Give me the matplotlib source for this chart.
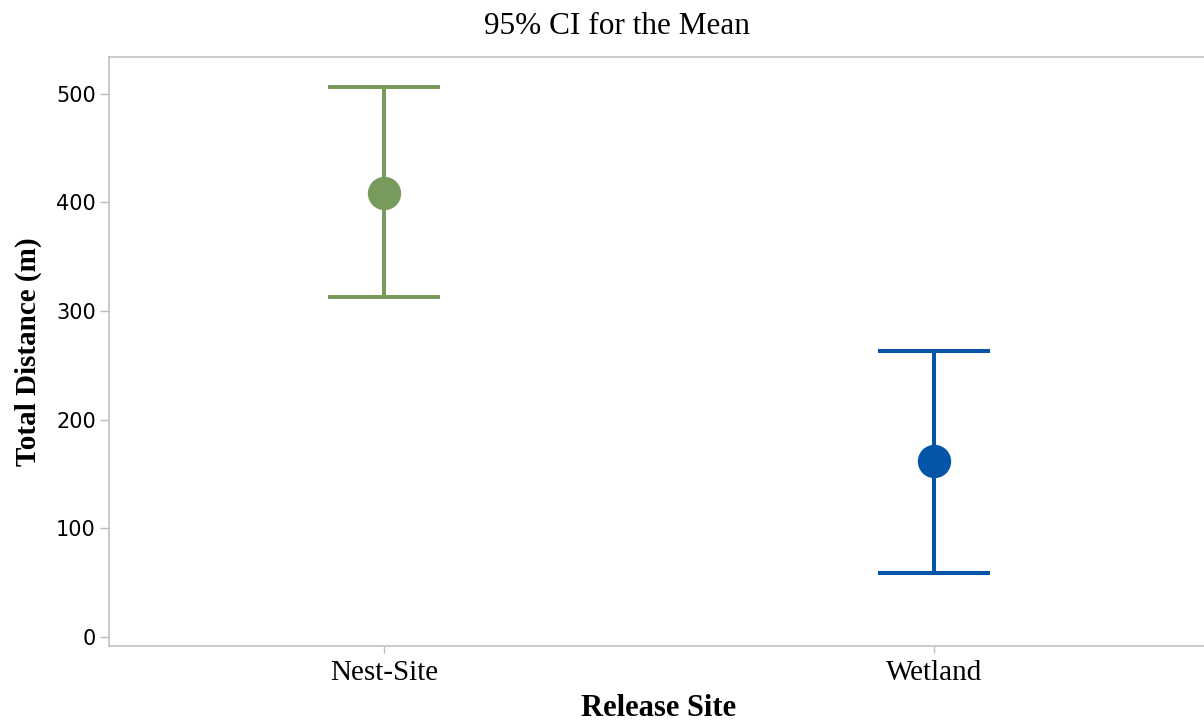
import matplotlib
matplotlib.use('Agg')
import matplotlib.pyplot as plt
import numpy as np

# group means and 95% confidence limits
sites = ['Nest-Site', 'Wetland']
means = [409, 162]
lower = [313, 59]
upper = [506, 263]
colors = ['#789A5D', '#0455A7']
yticks = [0, 100, 200, 300, 400, 500]

fig = plt.figure(figsize=(12.04, 7.23), dpi=100)
ax = fig.add_axes([0.0905, 0.1065, 0.9136, 0.8147])

x = np.arange(len(sites))
for i in range(len(sites)):
    err = [[means[i] - lower[i]], [upper[i] - means[i]]]
    ax.errorbar(x[i], means[i], yerr=err, fmt='o', color=colors[i],
                ecolor=colors[i], elinewidth=2.9, capsize=40, capthick=2.9,
                markersize=23, zorder=3)

ax.set_xlim(-0.5, 1.5)
ax.set_ylim(-8.6, 534)
ax.set_xticks(x)
ax.set_xticklabels(sites, family='Liberation Serif', fontsize=21)
ax.set_yticks(yticks)
ax.set_yticklabels([str(v) for v in yticks], family='DejaVu Sans', fontsize=15)

for s in ax.spines.values():
    s.set_color('#bdbdbd')
    s.set_linewidth(1.1)
ax.tick_params(axis='y', direction='out', length=6.5, width=1, color='#bdbdbd', pad=3)
ax.tick_params(axis='x', direction='out', length=5, width=1, color='#bdbdbd', pad=5)

fig.text(617 / 1204, 1 - 26 / 723, '95% CI for the Mean', family='Liberation Serif',
         fontsize=22.5, ha='center', va='center')
ax.set_xlabel('Release Site', family='Liberation Serif', fontsize=22,
              fontweight='bold', labelpad=6)
ax.set_ylabel('Total Distance (m)', family='Liberation Serif', fontsize=21,
              fontweight='bold', labelpad=10)

fig.savefig('out.png', dpi=100)
